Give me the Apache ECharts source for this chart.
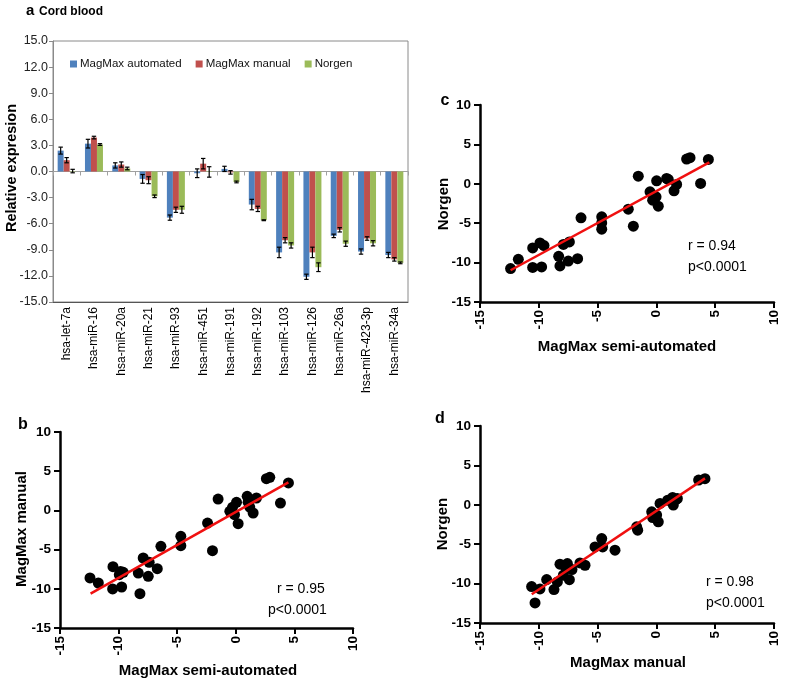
<!DOCTYPE html>
<html>
<head>
<meta charset="utf-8">
<script src="https://cdn.jsdelivr.net/npm/echarts@6/dist/echarts.min.js"></script>
<style>html,body{margin:0;padding:0;background:#fff;}#c{width:785px;height:682px;}</style>
</head>
<body>
<div id="c"></div>
<script>
// ---------- Panel a: bar chart data ----------
const categories = ['hsa-let-7a','hsa-miR-16','hsa-miR-20a','hsa-miR-21','hsa-miR-93','hsa-miR-451','hsa-miR-191','hsa-miR-192','hsa-miR-103','hsa-miR-126','hsa-miR-26a','hsa-miR-423-3p','hsa-miR-34a'];
const automated    = [2.4, 3.2, 0.7, -0.85, -5.3, -0.2, 0.3, -3.8, -9.3, -12.1, -7.4, -9.2, -9.6];
const automatedErr = [0.4, 0.5, 0.3, 0.5, 0.3, 0.5, 0.3, 0.6, 0.6, 0.3, 0.2, 0.3, 0.3];
const manual       = [1.3, 3.9, 0.8, -1.0, -4.4, 0.9, -0.1, -4.3, -7.9, -9.3, -6.7, -7.7, -10.1];
const manualErr    = [0.3, 0.15, 0.3, 0.4, 0.3, 0.6, 0.2, 0.3, 0.3, 0.6, 0.25, 0.2, 0.2];
const norgen       = [0.05, 3.1, 0.35, -2.85, -4.4, -0.05, -1.2, -5.6, -8.5, -11.0, -8.3, -8.25, -10.5];
const norgenErr    = [0.2, 0.1, 0.15, 0.15, 0.4, 0.6, 0.1, 0.05, 0.3, 0.5, 0.3, 0.3, 0.1];
const barTicks = [-15, 15, 3];

// ---------- Panel c: MagMax semi-automated vs Norgen ----------
const cPoints = [[-12.4,-10.76],[-11.74,-9.58],[-10.52,-10.62],[-9.76,-10.55],[-10.52,-8.14],[-9.9,-7.5],[-9.56,-7.84],[-8.31,-9.2],[-8.2,-10.42],[-7.91,-7.7],[-7.49,-9.8],[-7.4,-7.37],[-6.7,-9.5],[-6.41,-4.32],[-4.65,-4.19],[-4.65,-4.96],[-4.65,-5.76],[-2.39,-3.22],[-1.96,-5.38],[-1.54,0.97],[-0.54,-1.02],[-0.32,-2.08],[-0.03,-1.65],[0.02,0.38],[0.16,-2.84],[0.87,0.68],[1.01,0.55],[1.5,-0.89],[1.72,-0.08],[2.57,3.14],[2.86,3.31],[3.76,0.04],[4.42,3.09]];
const cLine = [[-12.4,-10.97],[4.5,2.71]];

// ---------- Panel b: MagMax semi-automated vs MagMax manual ----------
const bPoints = [[-12.44,-8.62],[-11.73,-9.26],[-10.51,-10.02],[-10.48,-7.18],[-9.83,-7.78],[-9.74,-9.77],[-9.6,-7.9],[-9.94,-8.2],[-8.32,-8.0],[-8.18,-10.62],[-7.47,-8.41],[-6.7,-7.43],[-7.9,-6.07],[-7.39,-6.62],[-6.39,-4.58],[-4.69,-3.31],[-4.69,-4.5],[-2.41,-1.61],[-1.99,-5.14],[-1.51,1.45],[-0.51,-0.12],[-0.28,0.39],[-0.11,-0.54],[0.06,1.03],[0.2,-1.69],[0.97,1.79],[1.05,1.03],[1.19,0.43],[1.48,-0.33],[1.76,1.58],[2.61,4.05],[2.9,4.22],[3.81,0.94],[4.49,3.5]];
const bLine = [[-12.39,-10.62],[4.49,3.58]];

// ---------- Panel d: MagMax manual vs Norgen ----------
const dPoints = [[-10.61,-10.38],[-9.9,-10.68],[-9.33,-9.49],[-8.71,-10.76],[-8.42,-9.79],[-8.2,-7.54],[-7.91,-8.94],[-7.69,-8.09],[-7.57,-7.46],[-7.4,-9.5],[-7.18,-8.22],[-6.5,-7.37],[-6.07,-7.67],[-5.22,-5.34],[-4.65,-4.28],[-4.57,-5.34],[-3.52,-5.76],[-1.68,-2.8],[-1.59,-3.22],[-0.4,-0.89],[-0.32,-1.61],[0.02,-1.31],[0.16,-2.16],[0.31,0.17],[0.96,0.59],[1.38,0.93],[1.44,-0.04],[1.67,0.68],[1.78,0.8],[3.59,3.14],[4.13,3.31],[-10.32,-12.46]];
const dLine = [[-10.6,-11.36],[4.13,3.35]];

const scatterTicks = [-15, 10, 5];

const FONT = '"Liberation Sans", Arial, sans-serif';
const BLUE = '#4f81bd', RED = '#c0504d', GREEN = '#9bbb59';

const chart = echarts.init(document.getElementById('c'), null, {renderer: 'canvas'});

function errData(vals, errs) {
  return vals.map((v, i) => [i, v, errs[i]]);
}
function errSeries(name, vals, errs, offset) {
  return {
    type: 'custom', name: name + ' err', xAxisIndex: 0, yAxisIndex: 0, z: 5,
    data: errData(vals, errs),
    renderItem: function (params, api) {
      const i = api.value(0), v = api.value(1), e = api.value(2);
      const top = api.coord([i, v + e]);
      const bot = api.coord([i, v - e]);
      const x = top[0] + offset;
      const st = {stroke: '#000', lineWidth: 1.2};
      return {type: 'group', children: [
        {type: 'line', shape: {x1: x, y1: top[1], x2: x, y2: bot[1]}, style: st},
        {type: 'line', shape: {x1: x - 2.2, y1: top[1], x2: x + 2.2, y2: top[1]}, style: st},
        {type: 'line', shape: {x1: x - 2.2, y1: bot[1], x2: x + 2.2, y2: bot[1]}, style: st}
      ]};
    }
  };
}

function scatterX(gridIndex) {
  return {
    type: 'value', gridIndex: gridIndex, min: scatterTicks[0], max: scatterTicks[1], interval: scatterTicks[2],
    axisLine: {onZero: false, lineStyle: {color: '#000', width: 2.5}},
    axisTick: {length: 6, lineStyle: {color: '#000', width: 2}},
    axisLabel: {rotate: 90, margin: 8, color: '#000', fontWeight: 'bold', fontSize: 13.5, fontFamily: FONT},
    splitLine: {show: false}
  };
}
function scatterY(gridIndex) {
  return {
    type: 'value', gridIndex: gridIndex, min: scatterTicks[0], max: scatterTicks[1], interval: scatterTicks[2],
    axisLine: {show: true, onZero: false, lineStyle: {color: '#000', width: 2.5}},
    axisTick: {show: true, length: 6, lineStyle: {color: '#000', width: 2}},
    axisLabel: {margin: 9, color: '#000', fontWeight: 'bold', fontSize: 13.5, fontFamily: FONT},
    splitLine: {show: false}
  };
}
function txt(text, x, y, opts) {
  return Object.assign({
    type: 'text', x: x, y: y,
    style: Object.assign({text: text, fill: '#000', font: (opts && opts.font) || ('bold 15px ' + FONT),
      textAlign: (opts && opts.align) || 'left', textVerticalAlign: 'middle'})
  }, opts && opts.rotation ? {rotation: opts.rotation} : {});
}

const option = {
  animation: false,
  backgroundColor: '#fff',
  grid: [
    {left: 53, top: 41, width: 355, height: 261, show: true, borderColor: '#8a8a8a', borderWidth: 1, backgroundColor: 'transparent'},
    {left: 480, top: 105, width: 294, height: 197},
    {left: 60, top: 432, width: 293, height: 196},
    {left: 480, top: 426, width: 294, height: 197}
  ],
  legend: {
    data: ['MagMax automated', 'MagMax manual', 'Norgen'],
    left: 65, top: 53, icon: 'rect', itemWidth: 7, itemHeight: 7, itemGap: 14,
    textStyle: {fontSize: 11.5, fontFamily: FONT, color: '#111', padding: [0, 0, 0, -2]}
  },
  xAxis: [
    {type: 'category', gridIndex: 0, data: categories, position: 'bottom',
     axisLine: {onZero: true, lineStyle: {color: '#a0a0a0'}},
     axisTick: {show: true, interval: 0, length: 4, lineStyle: {color: '#a0a0a0'}},
     axisLabel: {show: false}},
    {type: 'category', gridIndex: 0, data: categories, position: 'bottom',
     axisLine: {onZero: false, lineStyle: {color: '#555'}},
     axisTick: {show: false},
     axisLabel: {interval: 0, rotate: 90, margin: 5, fontSize: 12, color: '#000', fontFamily: FONT}},
    scatterX(1), scatterX(2), scatterX(3)
  ],
  yAxis: [
    {type: 'value', gridIndex: 0, min: barTicks[0], max: barTicks[1], interval: barTicks[2],
     axisLine: {show: true, lineStyle: {color: '#8a8a8a'}},
     axisTick: {show: true, length: 4, lineStyle: {color: '#8a8a8a'}},
     axisLabel: {formatter: v => v.toFixed(1), fontSize: 12.5, color: '#222', fontFamily: FONT, margin: 5},
     splitLine: {show: false}},
    scatterY(1), scatterY(2), scatterY(3)
  ],
  series: [
    {type: 'bar', name: 'MagMax automated', data: automated, xAxisIndex: 0, yAxisIndex: 0, barWidth: 6, barGap: '0%', itemStyle: {color: BLUE}},
    {type: 'bar', name: 'MagMax manual', data: manual, xAxisIndex: 0, yAxisIndex: 0, barWidth: 6, barGap: '0%', itemStyle: {color: RED}},
    {type: 'bar', name: 'Norgen', data: norgen, xAxisIndex: 0, yAxisIndex: 0, barWidth: 6, barGap: '0%', itemStyle: {color: GREEN}},
    errSeries('MagMax automated', automated, automatedErr, -6),
    errSeries('MagMax manual', manual, manualErr, 0),
    errSeries('Norgen', norgen, norgenErr, 6),
    {type: 'scatter', xAxisIndex: 2, yAxisIndex: 1, data: cPoints, symbolSize: 11, itemStyle: {color: '#000', opacity: 1}},
    {type: 'line', xAxisIndex: 2, yAxisIndex: 1, data: cLine, showSymbol: false, symbol: 'none', lineStyle: {color: '#f01010', width: 2.5}, z: 5},
    {type: 'scatter', xAxisIndex: 3, yAxisIndex: 2, data: bPoints, symbolSize: 11, itemStyle: {color: '#000', opacity: 1}},
    {type: 'line', xAxisIndex: 3, yAxisIndex: 2, data: bLine, showSymbol: false, symbol: 'none', lineStyle: {color: '#f01010', width: 2.5}, z: 5},
    {type: 'scatter', xAxisIndex: 4, yAxisIndex: 3, data: dPoints, symbolSize: 11, itemStyle: {color: '#000', opacity: 1}},
    {type: 'line', xAxisIndex: 4, yAxisIndex: 3, data: dLine, showSymbol: false, symbol: 'none', lineStyle: {color: '#f01010', width: 2.5}, z: 5}
  ],
  graphic: [
    txt('a', 26, 11, {font: 'bold 15px ' + FONT}),
    txt('Cord blood', 39, 12, {font: 'bold 12px ' + FONT}),
    txt('Relative expresion', 12, 168, {font: 'bold 14.5px ' + FONT, align: 'center', rotation: Math.PI / 2}),
    txt('c', 445, 101, {font: 'bold 16px ' + FONT, align: 'center'}),
    txt('Norgen', 444, 204, {font: 'bold 15px ' + FONT, align: 'center', rotation: Math.PI / 2}),
    txt('MagMax semi-automated', 627, 347, {font: 'bold 15px ' + FONT, align: 'center'}),
    txt('r = 0.94', 688, 246, {font: '14px ' + FONT}),
    txt('p<0.0001', 688, 267, {font: '14px ' + FONT}),
    txt('b', 23, 425, {font: 'bold 16px ' + FONT, align: 'center'}),
    txt('MagMax manual', 22, 529, {font: 'bold 15px ' + FONT, align: 'center', rotation: Math.PI / 2}),
    txt('MagMax semi-automated', 208, 671, {font: 'bold 15px ' + FONT, align: 'center'}),
    txt('r = 0.95', 277, 589, {font: '14px ' + FONT}),
    txt('p<0.0001', 268, 610, {font: '14px ' + FONT}),
    txt('d', 440, 419, {font: 'bold 16px ' + FONT, align: 'center'}),
    txt('Norgen', 443, 524, {font: 'bold 15px ' + FONT, align: 'center', rotation: Math.PI / 2}),
    txt('MagMax manual', 628, 663, {font: 'bold 15px ' + FONT, align: 'center'}),
    txt('r = 0.98', 706, 582, {font: '14px ' + FONT}),
    txt('p<0.0001', 706, 603, {font: '14px ' + FONT})
  ]
};
chart.setOption(option);
</script>
</body>
</html>
